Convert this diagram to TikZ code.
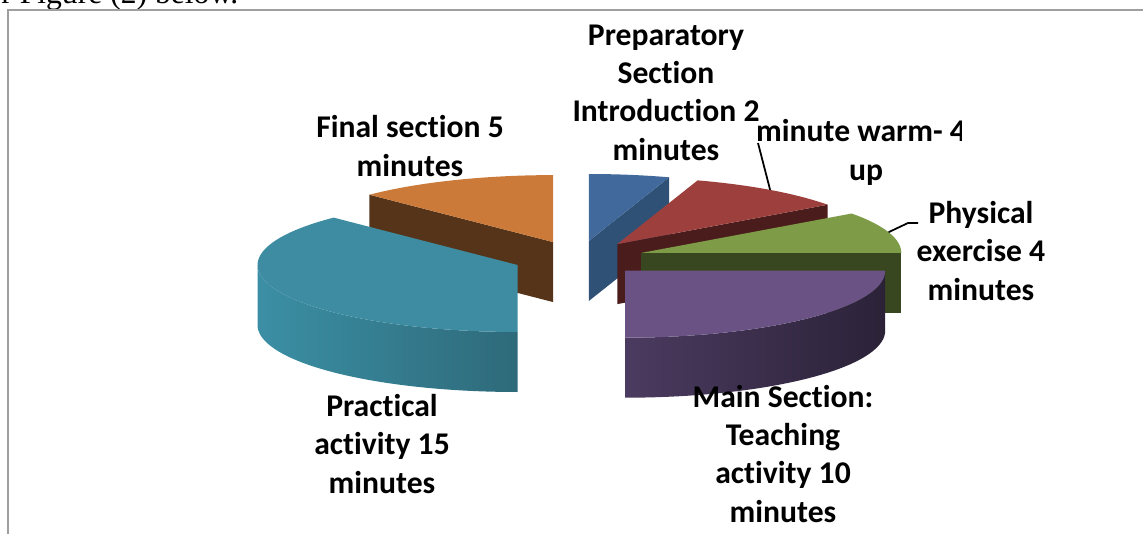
\documentclass[tikz,border=0pt]{standalone}
\usepackage{fontspec}
\setmainfont{Carlito}[Ligatures={NoCommon,NoContextual}, RawFeature=-liga, RawFeature=-clig, RawFeature=-calt, RawFeature=-ccmp]
\newfontfamily\timesfont{Liberation Serif}
\usepackage{tikz}
\usetikzlibrary{calc}

\definecolor{introtop}{HTML}{41699C}
\definecolor{introside}{HTML}{2F5176}
\definecolor{warmtop}{HTML}{9D403D}
\definecolor{warmside}{HTML}{4A1C1B}
\definecolor{phystop}{HTML}{7E9B48}
\definecolor{physside}{HTML}{384720}
\definecolor{maintop}{HTML}{6A5384}
\definecolor{mainsideL}{HTML}{4B3B60}
\definecolor{mainsideR}{HTML}{2B2238}
\definecolor{practop}{HTML}{3E8CA1}
\definecolor{pracsideL}{HTML}{3B8FA4}
\definecolor{pracsideR}{HTML}{2E6A7A}
\definecolor{finaltop}{HTML}{CB7A39}
\definecolor{finalside}{HTML}{553419}

\begin{document}
\begin{tikzpicture}[x=0.02cm, y=-0.02cm,
        lbl/.style={font=\fontsize{18}{21.8}\selectfont\bfseries, align=center, inner sep=0pt, anchor=base},
        leader/.style={black, line width=1pt},
        frame/.style={gray!75, line width=1.1pt}
    ]
    \useasboundingbox (0,0) rectangle (1143,534);

    % Mittelpunkte der (herausgezogenen) Stücke
    \def\introX{588.8}\def\introY{241.0}
    \def\warmX{617.3}\def\warmY{244.1}
    \def\physX{641.3}\def\physY{252.9}
    \def\mainX{625.2}\def\mainY{270.7}
    \def\pracX{517.5}\def\pracY{265.0}
    \def\finX{553.2}\def\finY{242.1}

    % Text oberhalb (abgeschnitten)
    \begin{scope}
        \clip (0,0) rectangle (1143,8);
        \node[font=\timesfont\fontsize{18}{18}\selectfont, anchor=base west, inner sep=0pt] (caption) at (1,4) {r Figure (2) below.};
    \end{scope}
    \draw[frame] (8,534) -- (8,10) -- (1143,10);

    % Final section (orange)
    \fill[finalside] (\finX,\finY) -- ({\finX+260*sin(315)},{\finY-67*cos(315)}) -- ({\finX+260*sin(315)},{\finY+60-67*cos(315)}) -- (\finX,\finY+60) -- cycle;
    \fill[finaltop] (\finX,\finY) -- plot[domain=315:360, samples=30, variable=\t] ({\finX+260*sin(\t)},{\finY-67*cos(\t)}) -- cycle;

    % Practical activity (tuerkis)
    \shade[left color=pracsideL, right color=pracsideR] plot[domain=180:270, samples=40, variable=\t] ({\pracX+260*sin(\t)},{\pracY-67*cos(\t)}) -- plot[domain=270:180, samples=40, variable=\t] ({\pracX+260*sin(\t)},{\pracY+60-67*cos(\t)}) -- cycle;
    \fill[practop] (\pracX,\pracY) -- plot[domain=180:315, samples=60, variable=\t] ({\pracX+260*sin(\t)},{\pracY-67*cos(\t)}) -- cycle;

    % Introduction (blau)
    \fill[introside] (\introX,\introY) -- ({\introX+260*sin(18)},{\introY-67*cos(18)}) -- ({\introX+260*sin(18)},{\introY+60-67*cos(18)}) -- (\introX,\introY+60) -- cycle;
    \fill[introtop] (\introX,\introY) -- plot[domain=0:18, samples=15, variable=\t] ({\introX+260*sin(\t)},{\introY-67*cos(\t)}) -- cycle;

    % Warm-up (rot)
    \fill[warmside] (\warmX,\warmY) -- ({\warmX+260*sin(54)},{\warmY-67*cos(54)}) -- ({\warmX+260*sin(54)},{\warmY+60-67*cos(54)}) -- (\warmX,\warmY+60) -- cycle;
    \fill[warmtop] (\warmX,\warmY) -- plot[domain=18:54, samples=20, variable=\t] ({\warmX+260*sin(\t)},{\warmY-67*cos(\t)}) -- cycle;

    % Physical exercise (gruen)
    \fill[physside] (\physX,\physY) -- (\physX+260,\physY) -- (\physX+260,\physY+60) -- (\physX,\physY+60) -- cycle;
    \fill[phystop] (\physX,\physY) -- plot[domain=54:90, samples=20, variable=\t] ({\physX+260*sin(\t)},{\physY-67*cos(\t)}) -- cycle;

    % Main section (lila)
    \shade[left color=mainsideL, right color=mainsideR] plot[domain=90:180, samples=40, variable=\t] ({\mainX+260*sin(\t)},{\mainY-67*cos(\t)}) -- plot[domain=180:90, samples=40, variable=\t] ({\mainX+260*sin(\t)},{\mainY+60-67*cos(\t)}) -- cycle;
    \fill[maintop] (\mainX,\mainY) -- plot[domain=90:180, samples=40, variable=\t] ({\mainX+260*sin(\t)},{\mainY-67*cos(\t)}) -- cycle;

    % Beschriftungen
    \node[lbl] (prep) at (666,160) {Preparatory\\Section\\Introduction 2\\minutes};
    \begin{scope}
        \clip (700,100) rectangle (961,200);
        \node[lbl] (warm) at (866,180) {minute warm- 4)\\up};
    \end{scope}
    \node[lbl] (phys) at (981,300) {Physical\\exercise 4\\minutes};
    \node[lbl] (final) at (410,176) {Final section 5\\minutes};
    \node[lbl] (prac) at (382,493) {Practical\\activity 15\\minutes};
    \node[lbl] (main) at (783,522) {Main Section:\\Teaching\\activity 10\\minutes};

    % Fuehrungslinien
    \coordinate (warmtip) at ({\warmX+260*sin(36)},{\warmY-67*cos(36)});
    \coordinate (warmend) at (758,143);
    \draw[leader] (warmtip) -- (warmend);
    \coordinate (phystip) at ({\physX+260*sin(72)},{\physY-67*cos(72)});
    \coordinate (physbend) at (908,223);
    \coordinate (physend) at (918,223);
    \draw[leader] (phystip) -- (physbend) -- (physend);

\end{tikzpicture}
\end{document}
